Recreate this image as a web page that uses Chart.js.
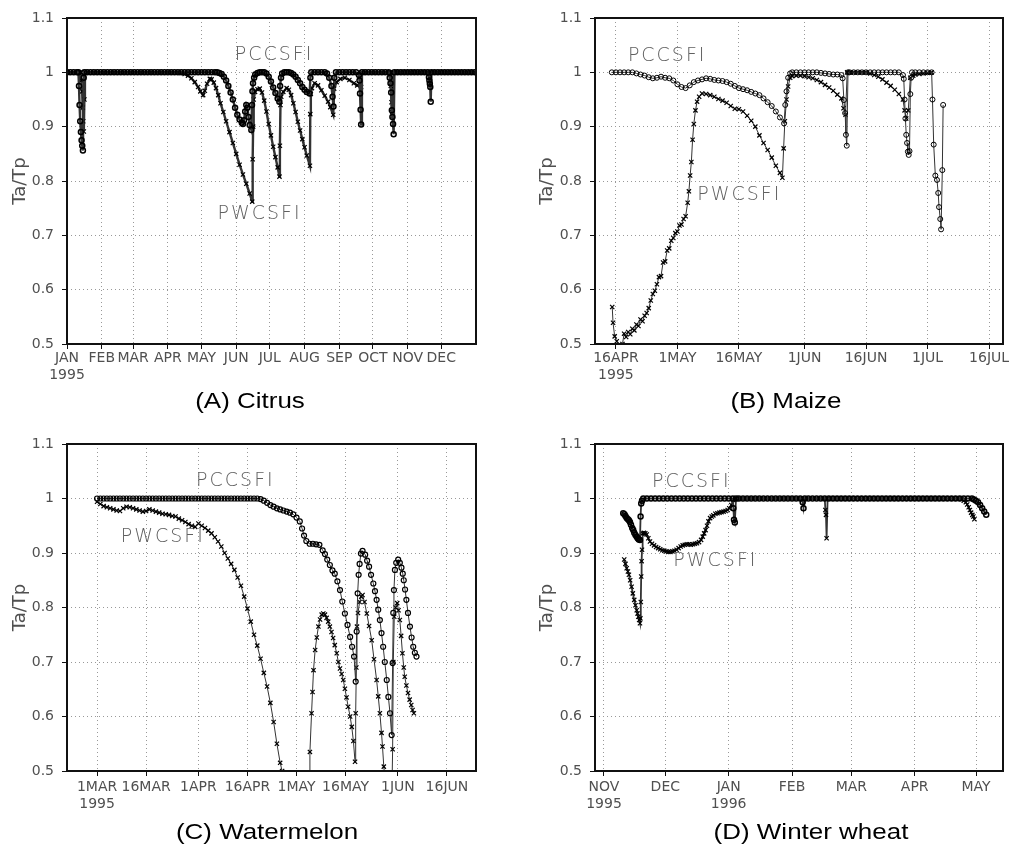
<!DOCTYPE html>
<html>
<head>
<meta charset="utf-8">
<script src="https://cdn.jsdelivr.net/npm/chart.js@4.4.1/dist/chart.umd.min.js"></script>
<style>
  body { margin: 0; background: #fff; }
  #wrap { position: relative; width: 1013px; height: 846px; overflow: hidden; }
  .panel { position: absolute; }
  .cap { position: absolute; width: 300px; text-align: center; font: 22px "Liberation Sans", Arial, sans-serif; line-height: 26px; color: #000; transform: scaleX(1.18); }
</style>
</head>
<body>
<div id="wrap">
  <div class="panel" style="left:0;top:0"><canvas id="chartA" width="506" height="400"></canvas></div>
  <div class="panel" style="left:506px;top:0"><canvas id="chartB" width="507" height="400"></canvas></div>
  <div class="panel" style="left:0;top:420px"><canvas id="chartC" width="506" height="400"></canvas></div>
  <div class="panel" style="left:506px;top:420px"><canvas id="chartD" width="507" height="400"></canvas></div>
  <div class="cap" style="left:100px;top:388px">(A) Citrus</div>
  <div class="cap" style="left:636px;top:388px">(B) Maize</div>
  <div class="cap" style="left:117px;top:819px">(C) Watermelon</div>
  <div class="cap" style="left:661px;top:819px">(D) Winter wheat</div>
</div>
<script>
// y axis (same for all panels)
const yTicks = [0.5, 0.6, 0.7, 0.8, 0.9, 1.0, 1.1];
const yTickLabels = ['0.5', '0.6', '0.7', '0.8', '0.9', '1', '1.1'];

// (A) Citrus, x = day of 1995 (Jan 1 = 0)
const citrusTicks = [0, 31, 59, 90, 120, 151, 181, 212, 243, 273, 304, 334];
const citrusTickLabels = [['JAN', '1995'], 'FEB', 'MAR', 'APR', 'MAY', 'JUN', 'JUL', 'AUG', 'SEP', 'OCT', 'NOV', 'DEC'];
const citrusPcc = [[0,1],[3,1],[6,1],[9,1],[10.2,1],[10.7,0.975],[11.2,0.94],[11.8,0.91],[12.4,0.89],[13,0.875],[13.6,0.865],[14.2,0.856],[14.9,0.99],[15.5,1],
  [18,1],[21,1],[24,1],[27,1],[30,1],[33,1],[36,1],[39,1],[42,1],[45,1],[48,1],[51,1],[54,1],[57,1],[60,1],[63,1],[66,1],[69,1],[72,1],[75,1],[78,1],[81,1],[84,1],[87,1],[90,1],[93,1],[96,1],[99,1],[102,1],[105,1],[108,1],[111,1],[114,1],[117,1],[120,1],[123,1],[126,1],[129,1],[132,1],[134,1],
  [136,0.999],[138,0.997],[140,0.992],[142,0.985],[144,0.975],[146,0.963],[148,0.95],[150,0.935],[152,0.922],[154,0.913],[156,0.907],[157,0.905],[158,0.912],[159,0.928],[160,0.94],[161,0.935],[162,0.918],[163,0.903],[164.5,0.894],
  [165.1,0.94],[165.5,0.965],[166,0.98],[167,0.99],[168,0.996],[170,0.999],[172,1],[174,1],[176,1],[178,0.998],[180,0.992],[182,0.983],[184,0.972],[186,0.962],[188,0.952],[189.5,0.946],
  [190.2,0.975],[191,0.99],[192,0.998],[194,1],[196,1],[198,1],[200,0.999],[202,0.996],[204,0.992],[206,0.986],[208,0.98],[210,0.973],[212,0.968],[214,0.964],[216.5,0.961],
  [217.2,0.99],[218,1],[221,1],[224,1],[227,1],[230,1],[232,0.998],[234,0.99],[236,0.975],[237,0.955],[237.8,0.937],[238.6,0.99],[240,1],[243,1],[246,1],[249,1],[252,1],[255,1],[258,1],
  [260.5,0.995],[261,0.985],[261.5,0.961],[262,0.931],[262.5,0.904],[263.2,1],[266,1],[269,1],[272,1],[275,1],[278,1],[281,1],[284,1],[287,1],
  [288,0.99],[288.7,0.98],[289.3,0.963],[289.9,0.93],[290.4,0.918],[291,0.905],[291.5,0.886],[292.2,1],[295,1],[298,1],[301,1],[304,1],[307,1],[310,1],[313,1],[316,1],[319,1],[322,1],
  [323,0.991],[323.4,0.985],[323.8,0.979],[324.2,0.973],[324.6,0.946],[325.2,1],[328,1],[331,1],[334,1],[337,1],[340,1],[343,1],[346,1],[349,1],[352,1],[355,1],[358,1],[361,1],[364,1]];
const citrusPwc = [[0,1],[3,1],[6,1],[9,1],[12,1],[12.8,0.985],[13.5,0.965],[14,0.935],[14.5,0.91],[15,0.891],[15.5,0.95],[16,1],
  [18,1],[21,1],[24,1],[27,1],[30,1],[33,1],[36,1],[39,1],[42,1],[45,1],[48,1],[51,1],[54,1],[57,1],[60,1],[63,1],[66,1],[69,1],[72,1],[75,1],[78,1],[81,1],[84,1],[87,1],[90,1],[93,1],[96,1],[99,1],
  [102,0.999],[105,0.997],[108,0.994],[111,0.989],[114,0.982],[117,0.973],[119,0.965],[121.5,0.958],[123,0.966],[125,0.979],[127.5,0.988],[129,0.987],[131,0.981],[133,0.971],[135,0.958],[137,0.943],[139.5,0.927],
  [142,0.91],[145,0.89],[148,0.87],[151,0.85],[154,0.83],[157,0.812],[160,0.795],[163,0.777],[165.3,0.762],
  [165.7,0.84],[166.1,0.9],[166.6,0.95],[167.8,0.964],[170,0.969],[172,0.97],[174,0.963],[176,0.948],[178,0.928],[180,0.905],[182,0.884],[184,0.863],[186,0.844],[188,0.825],[189.6,0.808],
  [190,0.865],[190.5,0.94],[191.2,0.955],[193,0.964],[196,0.971],[198,0.968],[200,0.958],[202,0.943],[204,0.927],[206,0.909],[208,0.893],[210,0.877],[212,0.862],[214,0.847],[216.8,0.828],
  [217.1,0.923],[217.6,0.96],[218.6,0.971],[221,0.98],[224,0.976],[227,0.967],[230,0.957],[233,0.946],[235,0.936],[237.6,0.922],
  [238.4,0.97],[240.6,0.982],[244,0.988],[248,0.99],[252,0.986],[256,0.98],[259,0.976],[262.5,0.973],[263.3,1],[266,1],[269,1],[272,1],[275,1],[278,1],[281,1],[284,1],[287,1],
  [288.5,1],[289,0.975],[289.6,0.945],[290.2,0.927],[290.8,0.92],[291.5,1],[294,1],[297,1],[300,1],[303,1],[306,1],[309,1],[312,1],[315,1],[318,1],[321,1],[324,1],[327,1],[330,1],[333,1],[336,1],[339,1],[342,1],[345,1],[348,1],[351,1],[354,1],[357,1],[360,1],[363,1]];

// (B) Maize, x = day of 1995 (Jan 1 = 0)
const maizeTicks = [105, 120, 135, 151, 166, 181, 196];
const maizeTickLabels = [['16APR', '1995'], '1MAY', '16MAY', '1JUN', '16JUN', '1JUL', '16JUL'];
const maizePcc = [[104,1],[105,1],[106,1],[107,1],[108,1],[109,1],[110,0.998],[111,0.996],[112,0.994],[113,0.991],[114,0.989],[115,0.99],[116,0.992],[117,0.99],[118,0.989],[119,0.985],[120,0.978],[121,0.973],[122,0.971],[123,0.976],[124,0.982],[125,0.985],[126,0.987],[127,0.989],[128,0.988],[129,0.986],[130,0.985],[131,0.984],[132,0.982],[133,0.979],[134,0.975],[135,0.971],[136,0.969],[137,0.967],[138,0.964],[139,0.961],[140,0.958],[141,0.952],[142,0.945],[143,0.938],[144,0.928],[145,0.917],[146,0.906],
  [146.3,0.94],[146.6,0.965],[147,0.99],[147.5,0.998],[148,1],[149,1],[150,1],[151,1],[152,1],[153,1],[154,1],[155,0.999],[156,0.998],[157,0.997],[158,0.996],[159,0.996],[160,0.995],
  [160.3,0.989],[160.6,0.949],[160.9,0.925],[161.1,0.885],[161.3,0.865],[161.6,1],[162,1],[163,1],[164,1],[165,1],[166,1],[167,1],[168,1],[169,1],[170,1],[171,1],[172,1],[173,1],[174,1],
  [175,0.995],[175.2,0.988],[175.4,0.95],[175.6,0.915],[175.8,0.885],[176,0.87],[176.2,0.854],[176.4,0.848],[176.6,0.855],[176.8,0.96],[177,0.99],[177.2,1],[178,1],[179,1],[180,1],[181,1],[182,1],
  [182.2,0.95],[182.5,0.867],[182.9,0.81],[183.3,0.802],[183.6,0.778],[183.8,0.752],[184.1,0.73],[184.3,0.711],[184.6,0.82],[184.8,0.94]];
const maizePwc = [[104.1,0.568],[104.3,0.539],[104.7,0.514],[105.2,0.505],[105.6,0.497],[106.2,0.496],[106.6,0.5],[107,0.519],[107.5,0.513],[108,0.522],[108.5,0.518],[109,0.528],[109.5,0.525],[110,0.536],[110.5,0.533],[111,0.545],[111.5,0.542],[112,0.552],[112.5,0.557],[113,0.566],[113.5,0.58],[114,0.592],[114.5,0.598],[115,0.61],[115.5,0.623],[116,0.625],[116.5,0.65],[117,0.652],[117.5,0.672],[118,0.676],[118.5,0.69],[119,0.695],[119.5,0.704],[120,0.707],[120.5,0.718],[121,0.72],[121.5,0.73],[122,0.735],
  [122.5,0.76],[122.8,0.781],[123.1,0.81],[123.4,0.835],[123.7,0.876],[124,0.905],[124.4,0.93],[124.8,0.946],[125.3,0.955],[126,0.961],[127,0.96],[128,0.958],[129,0.955],[130,0.951],[131,0.948],[132,0.944],[133,0.938],[134,0.933],[135,0.932],[136,0.928],[137,0.92],[138,0.911],[139,0.9],[140,0.884],[141,0.87],[142,0.857],[143,0.843],[144,0.828],[145,0.815],[145.6,0.806],
  [145.9,0.86],[146.2,0.91],[146.6,0.95],[147,0.974],[147.5,0.99],[148,0.993],[149,0.994],[150,0.994],[151,0.993],[152,0.991],[153,0.989],[154,0.986],[155,0.982],[156,0.977],[157,0.972],[158,0.966],[159,0.959],[160,0.952],[160.5,0.934],[161,0.922],
  [161.4,1],[162,1],[163,1],[164,1],[165,1],[166,1],[167,0.998],[168,0.995],[169,0.992],[170,0.987],[171,0.981],[172,0.975],[173,0.968],[174,0.96],[175,0.95],[175.4,0.93],[175.8,0.915],[176.3,0.93],[176.8,0.99],[177.5,0.994],[178,0.996],[179,0.997],[180,0.998],[181,0.999],[182,1]];

// (C) Watermelon, x = day of 1995 (Jan 1 = 0)
const melonTicks = [59, 74, 90, 105, 120, 135, 151, 166];
const melonTickLabels = [['1MAR', '1995'], '16MAR', '1APR', '16APR', '1MAY', '16MAY', '1JUN', '16JUN'];
const melonPcc = [[59,1],[60,1],[61,1],[62,1],[63,1],[64,1],[65,1],[66,1],[67,1],[68,1],[69,1],[70,1],[71,1],[72,1],[73,1],[74,1],[75,1],[76,1],[77,1],[78,1],[79,1],[80,1],[81,1],[82,1],[83,1],[84,1],[85,1],[86,1],[87,1],[88,1],[89,1],[90,1],[91,1],[92,1],[93,1],[94,1],[95,1],[96,1],[97,1],[98,1],[99,1],[100,1],[101,1],[102,1],[103,1],[104,1],[105,1],[106,1],[107,1],[108,1],
  [109,0.999],[110,0.996],[111,0.992],[112,0.988],[113,0.985],[114,0.982],[115,0.98],[116,0.978],[117,0.976],[118,0.974],[119,0.971],[120,0.965],[121,0.958],[121.7,0.945],[122.3,0.932],[123,0.922],[124,0.917],[125,0.917],[126,0.916],[127,0.915],[128,0.905],[128.7,0.898],[129.4,0.888],[130.2,0.878],[131,0.868],[131.7,0.862],[132.5,0.848],[133.3,0.832],[134,0.811],[134.8,0.789],[135.6,0.768],[136.4,0.746],[137,0.728],[137.6,0.71],[138.1,0.664],
  [138.4,0.756],[138.7,0.826],[139,0.86],[139.3,0.88],[139.7,0.899],[140.2,0.904],[141,0.897],[141.6,0.886],[142.2,0.875],[142.8,0.86],[143.5,0.844],[144,0.83],[144.5,0.814],[145,0.796],[145.5,0.777],[146,0.753],[146.5,0.728],[147,0.7],[147.6,0.667],[148.1,0.636],[148.6,0.606],[149.1,0.566],
  [149.4,0.698],[149.6,0.79],[149.8,0.832],[150.1,0.869],[150.5,0.882],[151.1,0.888],[151.6,0.882],[152.1,0.873],[152.5,0.862],[152.8,0.85],[153.2,0.833],[153.6,0.814],[154.1,0.79],[154.7,0.765],[155.2,0.745],[155.7,0.728],[156.2,0.717],[156.7,0.71]];
const melonPwc = [[59,0.994],[60,0.99],[61,0.986],[62,0.984],[63,0.982],[64,0.98],[65,0.978],[66,0.977],[67,0.982],[68,0.985],[69,0.984],[70,0.982],[71,0.98],[72,0.978],[73,0.976],[74,0.977],[75,0.98],[76,0.978],[77,0.976],[78,0.974],[79,0.972],[80,0.971],[81,0.97],[82,0.968],[83,0.967],[84,0.963],[85,0.96],[86,0.957],[87,0.953],[88,0.95],[89,0.948],[90,0.954],[91,0.95],[92,0.946],[93,0.941],[94,0.936],[95,0.929],[96,0.921],[97,0.912],[98,0.9],[99,0.89],[100,0.88],[101,0.869],[102,0.855],[103,0.84],[104,0.82],[105,0.798],[106,0.774],[107,0.75],[108,0.73],[109,0.706],[110,0.68],[111,0.655],[112,0.625],[113,0.59],[114,0.55],[115,0.515],[115.6,0.5],[117,0.48],[121,0.45],[123.9,0.47],
  [124.1,0.535],[124.6,0.606],[124.9,0.645],[125.2,0.685],[125.7,0.722],[126.2,0.745],[126.7,0.765],[127.2,0.778],[127.7,0.787],[128.2,0.789],[128.7,0.787],[129.2,0.781],[129.7,0.774],[130.2,0.765],[130.7,0.755],[131.2,0.744],[131.7,0.731],[132.3,0.716],[132.8,0.7],[133.3,0.688],[133.8,0.678],[134.3,0.667],[134.8,0.651],[135.3,0.635],[135.8,0.618],[136.4,0.6],[136.9,0.581],[137.4,0.555],[137.9,0.517],
  [138.1,0.606],[138.3,0.69],[138.5,0.765],[138.8,0.79],[139.3,0.81],[139.8,0.82],[140.2,0.823],[140.8,0.81],[141.5,0.789],[142.2,0.766],[143,0.74],[143.7,0.705],[144.5,0.667],[145,0.637],[145.5,0.606],[146,0.57],[146.3,0.545],[146.7,0.508],[147.3,0.47],[149.2,0.47],
  [149.4,0.54],[149.6,0.7],[149.9,0.783],[150.3,0.8],[150.8,0.808],[151.2,0.795],[151.6,0.777],[152,0.748],[152.4,0.716],[152.8,0.69],[153.1,0.673],[153.6,0.657],[154.1,0.643],[154.6,0.631],[155.1,0.621],[155.5,0.612],[155.9,0.606]];

// (D) Winter wheat, x = days from 1 Nov 1995
const wheatTicks = [0, 30, 61, 92, 121, 152, 182];
const wheatTickLabels = [['NOV', '1995'], 'DEC', ['JAN', '1996'], 'FEB', 'MAR', 'APR', 'MAY'];
const wheatPcc = [[9.4,0.973],[10,0.971],[10.5,0.968],[11.1,0.964],[11.7,0.962],[12.2,0.96],[12.7,0.957],[13.2,0.952],[13.8,0.946],[14.3,0.942],[14.8,0.937],[15.4,0.933],[16,0.93],[16.5,0.927],[17,0.925],[17.6,0.924],[17.9,0.967],[18.2,0.991],[18.6,0.996],
  [19.2,1],[21,1],[23,1],[25,1],[27,1],[29,1],[31,1],[33,1],[35,1],[37,1],[39,1],[41,1],[43,1],[45,1],[47,1],[49,1],[51,1],[53,1],[55,1],[57,1],[59,1],[61,1],[63,1],
  [63.3,0.982],[63.6,0.961],[64,0.956],[64.6,1],[66,1],[68,1],[70,1],[72,1],[74,1],[76,1],[78,1],[80,1],[82,1],[84,1],[86,1],[88,1],[90,1],[92,1],[94,1],[96,1],[97.2,0.993],[97.6,0.982],[98.2,1],
  [100,1],[102,1],[104,1],[106,1],[108,1],[110,1],[112,1],[114,1],[116,1],[118,1],[120,1],[122,1],[124,1],[126,1],[128,1],[130,1],[132,1],[134,1],[136,1],[138,1],[140,1],[142,1],[144,1],[146,1],[148,1],[150,1],[152,1],[154,1],[156,1],[158,1],[160,1],[162,1],[164,1],[166,1],[168,1],[170,1],[172,1],[174,1],[176,1],[178,1],[180,1],
  [181,0.998],[182,0.996],[183,0.993],[184,0.988],[185,0.982],[186,0.976],[187,0.97]];
const wheatPwc = [[9.9,0.888],[10.5,0.88],[11.1,0.872],[11.7,0.866],[12.2,0.86],[12.8,0.85],[13.5,0.838],[14.1,0.826],[14.8,0.814],[15.4,0.804],[16,0.795],[16.4,0.789],[16.8,0.783],[17.2,0.777],[17.6,0.771],
  [17.8,0.78],[18,0.81],[18.2,0.857],[18.4,0.885],[18.6,0.906],[18.9,0.936],[19.5,0.937],[20.2,0.936],[20.9,0.934],[21.7,0.927],[22.5,0.921],[23.5,0.917],[24.5,0.914],[25.5,0.911],[26.5,0.909],[27.5,0.907],[28.5,0.905],[29.5,0.904],[30.5,0.903],[31.5,0.902],[32.5,0.902],[33.5,0.903],[34.5,0.904],[35.5,0.906],[36.5,0.909],[37.5,0.912],[38.5,0.914],[39.5,0.915],[40.5,0.916],[41.5,0.916],[42.5,0.915],[43.5,0.916],[44.5,0.917],[45.5,0.918],[46.5,0.92],[47.5,0.924],
  [48.3,0.93],[49,0.936],[49.7,0.942],[50.4,0.95],[51.1,0.958],[51.9,0.964],[52.7,0.967],[53.5,0.969],[54.5,0.972],[55.5,0.973],[56.5,0.974],[57.5,0.975],[58.5,0.976],[59.5,0.977],[60.5,0.979],[61.3,0.982],[62.3,0.988],[63.3,0.997],
  [64,1],[66,1],[68,1],[70,1],[72,1],[74,1],[76,1],[78,1],[80,1],[82,1],[84,1],[86,1],[88,1],[90,1],[92,1],[94,1],[96,1],[98,1],[100,1],[102,1],[104,1],[106,1],[108,1],
  [108.3,0.979],[108.6,0.97],[108.9,0.927],[109.4,1],[111,1],[113,1],[115,1],[117,1],[119,1],[121,1],[123,1],[125,1],[127,1],[129,1],[131,1],[133,1],[135,1],[137,1],[139,1],[141,1],[143,1],[145,1],[147,1],[149,1],[151,1],[153,1],[155,1],[157,1],[159,1],[161,1],[163,1],[165,1],[167,1],[169,1],[171,1],[173,1],
  [175,0.999],[176,0.996],[177,0.993],[177.7,0.989],[178.4,0.984],[179,0.979],[179.6,0.974],[180.2,0.97],[180.7,0.967],[181.2,0.962]];

const tickFont = { family: 'DejaVu Sans', size: 14 };
const textGray = '#505050';

// black frame round the plot area
const framePlugin = {
  id: 'frame',
  afterDatasetsDraw(chart) {
    const a = chart.chartArea;
    const ctx = chart.ctx;
    ctx.save();
    ctx.lineWidth = 2;
    ctx.strokeStyle = '#111';
    ctx.strokeRect(a.left, a.top, a.right - a.left, a.bottom - a.top);
    ctx.restore();
  }
};

// PCCSFI / PWCSFI names written next to the curves
const curveLabels = {
  id: 'curveLabels',
  afterDatasetsDraw(chart, args, opts) {
    const ctx = chart.ctx;
    ctx.save();
    ctx.font = '200 19px "DejaVu Sans"';
    ctx.fillStyle = '#606060';
    ctx.textAlign = 'center';
    ctx.textBaseline = 'middle';
    ctx.letterSpacing = '2px';
    for (const l of opts.items || []) {
      ctx.fillText(l.text, chart.scales.x.getPixelForValue(l.x), chart.scales.y.getPixelForValue(l.y));
    }
    ctx.restore();
  }
};

function toXY(pairs) {
  return pairs.map(p => ({ x: p[0], y: p[1] }));
}

function makePanel(id, p) {
  const ctx = document.getElementById(id).getContext('2d');
  return new Chart(ctx, {
    type: 'line',
    data: {
      datasets: [
        {
          label: 'PCCSFI',
          data: toXY(p.pcc),
          borderColor: '#333',
          borderWidth: p.lineWidth,
          pointStyle: 'circle',
          pointRadius: 2.5,
          pointBorderWidth: p.markWidth,
          pointBorderColor: '#000',
          pointBackgroundColor: 'rgba(255,255,255,0)',
          tension: 0
        },
        {
          label: 'PWCSFI',
          data: toXY(p.pwc),
          borderColor: '#333',
          borderWidth: p.lineWidth,
          pointStyle: 'crossRot',
          pointRadius: 3,
          pointBorderWidth: 1.2,
          pointBorderColor: '#000',
          tension: 0
        }
      ]
    },
    options: {
      responsive: false,
      animation: false,
      events: [],
      layout: { padding: { top: p.padTop, right: p.padRight, left: 0, bottom: 0 } },
      plugins: {
        legend: { display: false },
        tooltip: { enabled: false },
        curveLabels: { items: p.labels }
      },
      scales: {
        x: {
          type: 'linear',
          min: p.xMin,
          max: p.xMax,
          afterFit: s => { s.height = p.xHeight; },
          afterBuildTicks: s => { s.ticks = p.xTicks.map(v => ({ value: v })); },
          ticks: {
            autoSkip: false,
            maxRotation: 0,
            padding: p.xPad,
            font: tickFont,
            color: textGray,
            callback: (v, i) => p.xLabels[i]
          },
          grid: { color: '#999', lineWidth: 1, tickLength: 5, tickColor: '#111', tickWidth: 1 },
          border: { display: false, dash: [1, 3] }
        },
        y: {
          min: 0.5,
          max: 1.1,
          afterFit: s => { s.width = p.yWidth; },
          afterBuildTicks: s => { s.ticks = yTicks.map(v => ({ value: v })); },
          ticks: {
            padding: 8,
            font: tickFont,
            color: textGray,
            callback: (v, i) => yTickLabels[i]
          },
          title: {
            display: true,
            text: 'Ta/Tp',
            color: textGray,
            font: { family: 'DejaVu Sans', size: 18 },
            padding: { top: p.titlePad, bottom: 0 }
          },
          grid: { color: '#999', lineWidth: 1, tickLength: 5, tickColor: '#111', tickWidth: 1 },
          border: { display: false, dash: [1, 3] }
        }
      }
    },
    plugins: [framePlugin, curveLabels]
  });
}

makePanel('chartA', {
  pcc: citrusPcc, pwc: citrusPwc,
  xMin: 0, xMax: 365, xTicks: citrusTicks, xLabels: citrusTickLabels,
  padTop: 18, padRight: 30, yWidth: 67, xHeight: 56, xPad: 1, titlePad: 10, lineWidth: 2.4, markWidth: 1.5,
  labels: [{ text: 'PCCSFI', x: 184.7, y: 1.031 }, { text: 'PWCSFI', x: 171.8, y: 0.739 }]
});
makePanel('chartB', {
  pcc: maizePcc, pwc: maizePwc,
  xMin: 99.9, xMax: 199.4, xTicks: maizeTicks, xLabels: maizeTickLabels,
  padTop: 18, padRight: 10, yWidth: 89, xHeight: 56, xPad: 1, titlePad: 31, lineWidth: 1, markWidth: 1,
  labels: [{ text: 'PCCSFI', x: 117.5, y: 1.0296 }, { text: 'PWCSFI', x: 135.1, y: 0.774 }]
});
makePanel('chartC', {
  pcc: melonPcc, pwc: melonPwc,
  xMin: 49.8, xMax: 174.9, xTicks: melonTicks, xLabels: melonTickLabels,
  padTop: 24, padRight: 30, yWidth: 67, xHeight: 49, xPad: 3, titlePad: 10, lineWidth: 1, markWidth: 1.2,
  labels: [{ text: 'PCCSFI', x: 101.3, y: 1.0325 }, { text: 'PWCSFI', x: 79.1, y: 0.9294 }]
});
makePanel('chartD', {
  pcc: wheatPcc, pwc: wheatPwc,
  xMin: -4.4, xMax: 195.2, xTicks: wheatTicks, xLabels: wheatTickLabels,
  padTop: 24, padRight: 10, yWidth: 89, xHeight: 49, xPad: 3, titlePad: 31, lineWidth: 1.8, markWidth: 1.5,
  labels: [{ text: 'PCCSFI', x: 42.7, y: 1.0303 }, { text: 'PWCSFI', x: 54.5, y: 0.8857 }]
});
</script>
</body>
</html>
